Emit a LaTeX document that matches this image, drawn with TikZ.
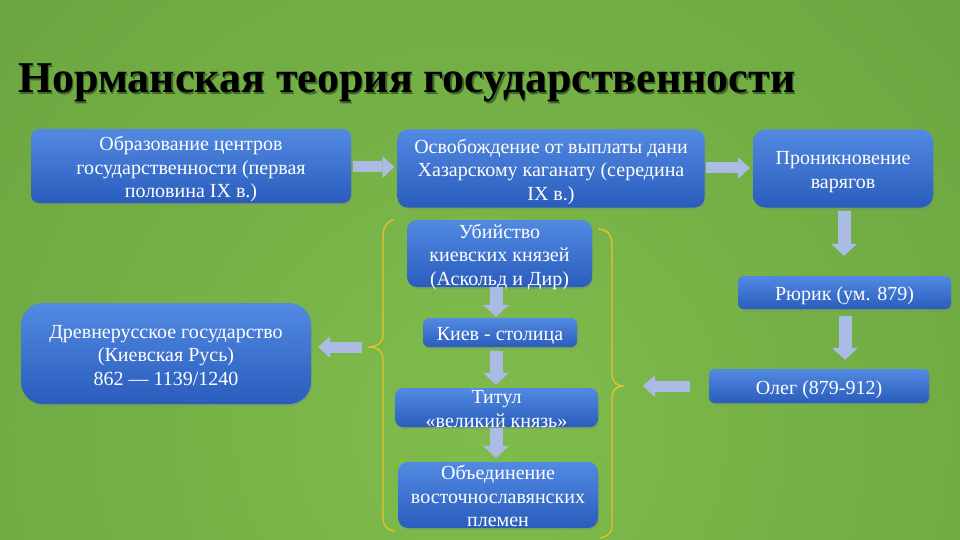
\documentclass[tikz,border=0pt]{standalone}
\usepackage{fontspec}
\setmainfont{Liberation Serif}
\newfontfamily\tnrfont{Liberation Serif}
\usetikzlibrary{arrows.meta,shadows,calc}
\definecolor{bgin}{RGB}{128,188,76}
\definecolor{bgout}{RGB}{90,148,56}
\definecolor{boxtop}{RGB}{82,138,226}
\definecolor{boxbot}{RGB}{42,92,188}
\definecolor{arrowc}{RGB}{170,188,228}
\definecolor{bracec}{RGB}{230,194,40}
\newcommand{\boxtxt}[1]{\raisebox{-8.5pt}[0pt][0pt]{\begin{tabular}{@{}c@{}}#1\end{tabular}}}
\begin{document}
\begin{tikzpicture}[x=1pt,y=-1pt,
  bbox/.style={rounded corners=#1, inner sep=0pt, top color=boxtop, bottom color=boxbot,
    text=white, font=\tnrfont\fontsize{20}{23.5}\selectfont,
    drop shadow={opacity=0.3, shadow xshift=1pt, shadow yshift=-2pt}},
  bbox/.default=8pt,
  barrow/.style={draw=arrowc, line width=11pt, -{Triangle[width=22pt,length=12pt,line width=0pt]}},
  varrow/.style={draw=arrowc, line width=13pt, -{Triangle[width=26pt,length=12pt,line width=0pt]}},
  brace/.style={draw=bracec, line width=1.3pt}
]
% background
\begin{scope}
\clip (0,0) rectangle (960,540);
\fill[bgout] (0,0) rectangle (960,540);
\shade[inner color=bgin, outer color=bgout] (480,430) circle (1150);
\end{scope}
\useasboundingbox (0,0) rectangle (960,540);

% title
\node[anchor=base west, inner sep=0pt, font=\tnrfont\fontsize{44}{44}\bfseries, text=black!30!bgout] (titleshadow) at (19.2,94.2) {Норманская теория государственности};
\node[anchor=base west, inner sep=0pt, font=\tnrfont\fontsize{44}{44}\bfseries, text=black] (title) at (18,93) {Норманская теория государственности};

% top row
\node[bbox=8pt, minimum width=320pt, minimum height=74pt] (A) at (191,166) {\boxtxt{Образование центров\\государственности (первая\\половина IX в.)}};
\node[bbox=10pt, minimum width=307pt, minimum height=78pt] (B) at (551,168.5) {\boxtxt{Освобождение от выплаты дани\\Хазарскому каганату (середина\\IX в.)}};
\node[bbox=12pt, minimum width=180pt, minimum height=78pt] (C) at (843,168.5) {\boxtxt{Проникновение\\варягов}};

% right column
\node[bbox=5pt, minimum width=213pt, minimum height=33pt] (R) at (844.5,292.5) {\boxtxt{Рюрик (ум. 879)}};
\node[bbox=5pt, minimum width=220pt, minimum height=34pt] (Ol) at (819,386) {\boxtxt{Олег (879-912)}};

% left
\node[bbox=22pt, minimum width=290pt, minimum height=101pt] (D) at (166,353.5) {\boxtxt{Древнерусское государство\\(Киевская Русь)\\862 — 1139/1240}};

% middle column
\node[bbox=10pt, minimum width=185pt, minimum height=67pt] (U) at (499.5,253.5) {\boxtxt{Убийство\\киевских князей\\(Аскольд и Дир)}};
\node[bbox=6pt, minimum width=154pt, minimum height=29pt] (K) at (500,332.5) {\boxtxt{Киев - столица}};
\node[bbox=8pt, minimum width=203pt, minimum height=39pt] (T) at (496.5,407.5) {\boxtxt{Титул\\«великий князь»}};
\node[bbox=10pt, minimum width=200pt, minimum height=66pt] (O) at (498,495) {\boxtxt{Объединение\\восточнославянских\\племен}};

% braces
\coordinate (lb) at (368,347);
\coordinate (rb) at (623,386);
\draw[brace] (394,220) .. controls (386,221) and (383,228) .. (383,238) -- (383,335)
  .. controls (383,343) and (377,347) .. (lb) .. controls (377,347) and (383,351) .. (383,359)
  -- (383,518) .. controls (383,526) and (387,530) .. (395,531);
\draw[brace] (598,229) .. controls (607,229) and (612,235) .. (612,245) -- (612,374)
  .. controls (612,381) and (616,386) .. (rb) .. controls (616,386) and (612,391) .. (612,398)
  -- (612,526) .. controls (612,533) and (607,537) .. (600,538);

% connectors
\draw[barrow, shorten <=2pt, shorten >=3pt] (A.east |- 0,167) -- (B.west |- 0,167);
\draw[barrow, shorten <=1pt, shorten >=3pt] (B.east |- 0,168) -- (C.west |- 0,168);
\draw[varrow, shorten <=3pt, shorten >=20pt] (C.south -| 844,0) -- (R.north -| 844,0);
\draw[varrow, shorten <=7pt, shorten >=9pt] (R.south -| 845,0) -- (Ol.north -| 845,0);
\draw[barrow, shorten <=19pt, shorten >=0pt] (Ol.west) -- ($(rb)+(20,0)$);
\draw[barrow, shorten <=6pt, shorten >=7pt] (lb) -- (lb -| D.east);
\draw[varrow, shorten <=0pt, shorten >=1pt] (U.south -| 496,0) -- (K.north -| 496,0);
\draw[varrow, shorten <=4pt, shorten >=3pt] (K.south -| 496,0) -- (T.north -| 496,0);
\draw[varrow, shorten <=1pt, shorten >=4pt] (T.south -| 496,0) -- (O.north -| 496,0);
\end{tikzpicture}
\end{document}
